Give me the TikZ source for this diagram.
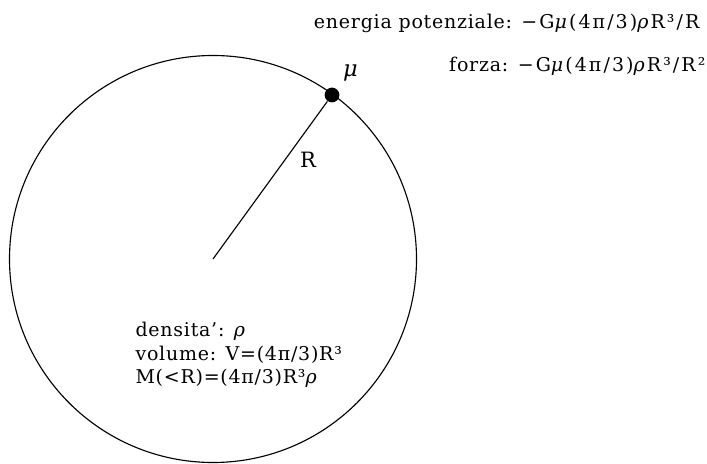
\documentclass[tikz,border=0pt]{standalone}
\usepackage{fontspec}
\setmainfont[LetterSpace=4]{DejaVu Serif}
\newfontfamily\frm[LetterSpace=11]{DejaVu Serif}
\usetikzlibrary{positioning}
\tikzset{
  txt/.style={inner sep=0pt, font=\fontsize{13.5}{16.4}\selectfont},
  mass/.style={circle, fill=black, inner sep=0pt, minimum size=0.37cm},
}
\newcommand{\gm}{{\frm −G\textit{μ}(4π/3)\textit{ρ}R³}}

\begin{document}
\begin{tikzpicture}[x=0.025cm, y=-0.025cm, line width=0.8pt]
      \useasboundingbox (0,0) rectangle (707,464);

      %% ---- sphere ----
      \coordinate (O) at (213,259);
      \draw (O) circle [radius=203.5];
      \node[mass] (mu) at (332,95) {};
      \draw (O) -- (mu);

      %% ---- labels ----
      \node[txt, font=\fontsize{16}{18}\selectfont] (mulbl) at (351,73) {\textit{μ}};
      \node[txt, font=\fontsize{15}{18}\selectfont] (rlbl) at (308,160) {R};
      \node[txt, anchor=base east] (energy) at (700,29)
           {energia potenziale:\enspace\gm{\frm/R}};
      \node[txt, anchor=base east] (force) at (706,72)
           {forza:\enspace\gm{\frm/R²}};
      \node[txt, anchor=north west, align=left] (data) at (135,322)
           {densita':\enspace\textit{ρ}\\
            volume:\enspace V=(4π/3)R³\\
            M(<R)=(4π/3)R³\textit{ρ}};
\end{tikzpicture}
\end{document}
